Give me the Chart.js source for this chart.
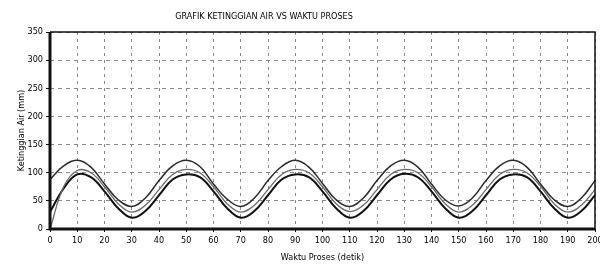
<!DOCTYPE html>
<html>
<head>
<meta charset="utf-8">
<script src="https://cdn.jsdelivr.net/npm/chart.js@4.4.0/dist/chart.umd.min.js"></script>
<style>
html,body{margin:0;padding:0;background:#fff}
#wrap{width:600px;height:268px}
</style>
</head>
<body>
<div id="wrap"><canvas id="grafik"></canvas></div>
<script>
// ---------------- DATA ----------------
const waktu = [0,5,10,15,20,25,30,35,40,45,50,55,60,65,70,75,80,85,90,95,100,
105,110,115,120,125,130,135,140,145,150,155,160,165,170,175,180,185,190,195,200]

const atas = [88,112,122,110,80,52,40,55, 86,112,122,111,80,53,40,55, 86,111,122,110,81,52,40,55,
86,112,122,110,80,52,41,55, 86,112,122,110,80,52,40,55, 86]

const tengah = [0,75,104,100,75,45,30,42, 70,97,106,100,75,45,30,42, 70,97,106,100,75,45,31,42,
70,97,106,100,75,45,30,42, 70,97,106,100,76,45,30,42, 70]

const bawah = [30,72,97,92,67,37,20,32, 60,88,97,92,67,37,20,32, 60,88,97,92,67,37,20,32,
60,88,98,92,67,37,20,32, 60,88,97,92,67,37,20,32, 60]

const yTicks = [0,50,100,150,200,250,300,350]

const judul = "GRAFIK KETINGGIAN AIR VS WAKTU PROSES"

const fam = "'Liberation Sans Narrow','DejaVu Sans Condensed','Arial Narrow','Liberation Sans',sans-serif"

const titik = (arr) => waktu.map((x,i) => ({x:x, y:arr[i]}))

// ---------------- PLUGIN: frame + judul ----------------
const bingkai = {
id:"bingkai",
afterDraw(chart){
const ctx = chart.ctx
const a = chart.chartArea
ctx.save()
ctx.strokeStyle = "#111"
ctx.lineWidth = 1.5
ctx.beginPath()
ctx.moveTo(a.left, a.top)
ctx.lineTo(a.right, a.top)
ctx.lineTo(a.right, a.bottom)
ctx.stroke()
ctx.lineWidth = 3
ctx.beginPath()
ctx.moveTo(a.left, a.top)
ctx.lineTo(a.left, a.bottom)
ctx.lineTo(a.right, a.bottom)
ctx.stroke()

ctx.fillStyle = "#000"
ctx.font = "9px " + fam
ctx.textAlign = "center"
ctx.textBaseline = "middle"
ctx.fillText(judul, 264, 17)
ctx.restore()
}
}

// ---------------- GRAFIK ----------------
new Chart(document.getElementById("grafik"),{
type:"line",
data:{
datasets:[
{label:"atas", data:titik(atas), borderColor:"#2a2a2a", borderWidth:1.5},
{label:"tengah", data:titik(tengah), borderColor:"#6a6a6a", borderWidth:1.3},
{label:"bawah", data:titik(bawah), borderColor:"#111", borderWidth:2}
]
},
options:{
responsive:true,
maintainAspectRatio:false,
animation:false,
elements:{
point:{radius:0},
line:{tension:0.4, fill:false}
},
layout:{padding:{top:32,right:0,left:0,bottom:0}},
plugins:{
legend:{display:false},
title:{display:false},
tooltip:{enabled:false}
},
scales:{
x:{
type:"linear",
min:0,
max:200,
ticks:{stepSize:10, color:"#000", font:{family:fam, size:9}, padding:3, maxRotation:0, autoSkip:false},
grid:{color:"#8a8a8a", tickLength:3, tickColor:"#111"},
border:{display:false, dash:[3,4]},
title:{display:true, text:"Waktu Proses (detik)", color:"#000", font:{family:fam, size:9}, padding:{top:2,bottom:5}},
afterFit(s){ s.height = 39; s.paddingRight = 5; s.paddingLeft = 0 }
},
y:{
min:0,
max:350,
afterBuildTicks(s){ s.ticks = yTicks.map(v => ({value:v})) },
ticks:{color:"#000", font:{family:fam, size:9}, padding:3},
grid:{color:"#8a8a8a", tickLength:4, tickColor:"#111"},
border:{display:false, dash:[4,4]},
title:{display:true, text:"Ketinggian Air (mm)", color:"#000", font:{family:fam, size:9}, padding:{top:16,bottom:0}},
afterFit(s){ s.width = 50 }
}
}
},
plugins:[bingkai]
})
</script>
</body>
</html>
